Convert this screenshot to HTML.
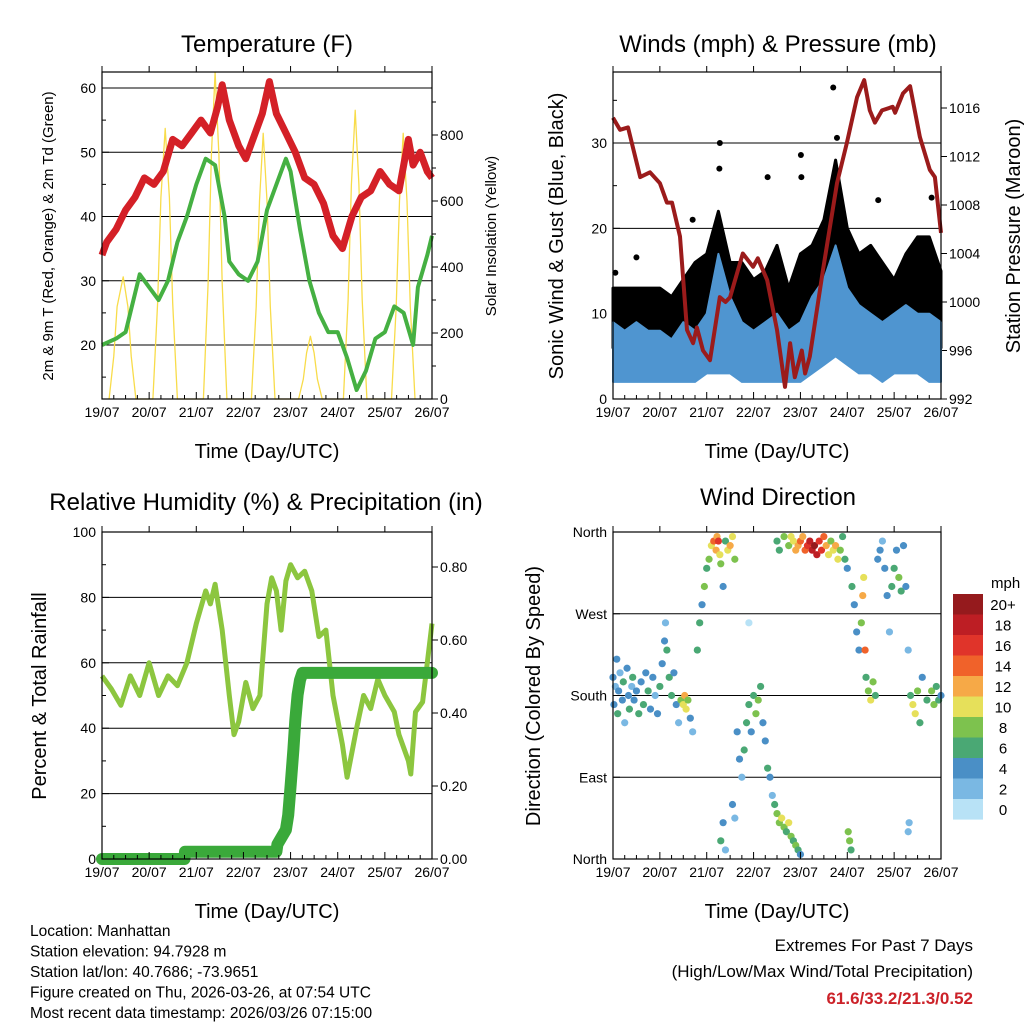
<!DOCTYPE html>
<html><head><meta charset="utf-8"><style>
html,body{margin:0;padding:0;background:#fff;}
svg{display:block;font-family:"Liberation Sans",sans-serif;}
</style></head><body>
<svg id="c" width="1024" height="1024" viewBox="0 0 1024 1024"></svg>
<script>
// ---------- data ----------
const dayLabels = ["19/07","20/07","21/07","22/07","23/07","24/07","25/07","26/07"];
const tempT = [19.0,19.1,19.3,19.5,19.7,19.9,20.1,20.3,20.5,20.7,20.9,21.1,21.3,21.45,21.55,21.7,21.9,22.05,22.2,22.4,22.55,22.7,22.9,23.1,23.3,23.5,23.7,23.9,24.1,24.3,24.5,24.7,24.9,25.1,25.3,25.5,25.6,25.75,25.9,26.0];
const tempV = [34,36,38,41,43,46,45,47,52,51,53,55,53,57,60.5,55,51,49,52,56,61,56,53,50,46,45,42,37,35,40,43,44,47,45,44,52,48,50,47,46];
const dewT = [19.0,19.3,19.5,19.7,19.8,20.0,20.2,20.4,20.6,20.8,21.0,21.2,21.4,21.6,21.7,21.9,22.1,22.3,22.5,22.7,22.9,23.0,23.2,23.4,23.6,23.8,24.0,24.2,24.4,24.6,24.8,25.0,25.2,25.4,25.6,25.7,25.9,26.0];
const dewV = [20,21,22,28,31,29,27,30,36,40,45,49,48,40,33,31,30,33,41,45,49,47,38,30,25,22,22,18,13,16,21,22,26,25,20,29,34,37];
const solarT = [19.15,19.25,19.32,19.45,19.55,19.62,19.72, 20.08,20.18,20.25,20.34,20.43,20.5,20.6, 21.15,21.25,21.32,21.4,21.48,21.55,21.65, 22.17,22.27,22.34,22.42,22.5,22.57,22.67, 23.17,23.27,23.34,23.42,23.5,23.57,23.67, 24.12,24.22,24.29,24.37,24.45,24.52,24.62, 25.14,25.24,25.31,25.39,25.47,25.54,25.64];
const solarV = [0,130,280,370,280,130,0, 0,290,610,820,610,290,0, 0,350,740,990,740,350,0, 0,280,600,805,600,280,0, 0,60,140,190,140,60,0, 0,300,650,875,650,300,0, 0,280,600,805,600,280,0];
const windT = [19.0,19.25,19.5,19.75,20.0,20.25,20.5,20.75,21.0,21.25,21.5,21.75,22.0,22.25,22.5,22.75,23.0,23.25,23.5,23.75,24.0,24.25,24.5,24.75,25.0,25.25,25.5,25.75,26.0];
const gustLow = [6,6,6,5,5,5,5,6,7,8,7,5,5,5,6,5,5,6,8,10,8,7,7,6,7,7,6,6,6];
const gustHigh = [13,13,13,13,13,12,14,16,17,22,16,16,14,15,18,13,17,18,21,28,20,17,18,16,14,17,19,19,15];
const windLow = [2,2,2,2,2,2,2,2,3,3,3,2,2,2,2,2,2,3,4,5,4,3,3,2,3,3,3,2,2];
const windHigh = [9,8,9,8,8,7,9,8,10,17,12,9,8,9,10,8,9,12,14,18,13,11,10,9,10,11,10,10,9];
const gustOutT = [19.05,19.5,20.7,21.27,21.28,22.3,23.01,23.02,23.7,23.78,24.66,25.8];
const gustOutV = [14.8,16.6,21,27,30,26,28.6,26,36.5,30.6,23.3,23.6];
const presT = [19.0,19.15,19.32,19.58,19.79,20.0,20.15,20.26,20.43,20.58,20.71,20.79,20.92,21.07,21.28,21.4,21.5,21.77,21.99,22.09,22.29,22.5,22.67,22.78,22.88,23.03,23.1,23.2,23.48,23.78,23.99,24.21,24.36,24.48,24.59,24.74,24.97,25.02,25.19,25.34,25.55,25.76,25.87,26.0];
const presV = [1015.2,1014.2,1014.4,1010.3,1010.7,1009.8,1008.2,1008.2,1005.4,997.7,996.6,997.9,996,995.2,1000.4,1000,1000.4,1004,1002.9,1003.6,1001.8,997.7,993,996.6,993.8,996,994.1,995.5,1002.6,1009.8,1013.1,1016.9,1018.3,1015.8,1014.8,1015.8,1016.1,1015.6,1017.2,1017.8,1013.6,1010.9,1010.3,1005.7];
const rhT = [19.0,19.2,19.4,19.6,19.8,20.0,20.2,20.4,20.6,20.8,21.0,21.2,21.3,21.4,21.55,21.7,21.8,21.9,22.05,22.2,22.35,22.5,22.6,22.7,22.8,22.9,23.0,23.15,23.3,23.45,23.6,23.75,23.9,24.1,24.2,24.4,24.55,24.7,24.85,25.0,25.2,25.3,25.5,25.55,25.65,25.8,25.9,26.0];
const rhV = [56,52,47,56,50,60,50,56,53,60,72,82,78,84,70,50,38,42,54,46,50,78,86,82,70,85,90,86,88,82,68,70,50,35,25,40,50,46,55,50,45,38,30,26,45,48,60,72];
const precT = [19.0,20.75,20.76,22.7,22.72,22.9,22.95,23.0,23.03,23.06,23.1,23.15,23.2,23.25,26.0];
const precV = [0,0,0.02,0.02,0.04,0.08,0.12,0.2,0.25,0.3,0.38,0.45,0.49,0.51,0.51];
const dirT = [19.0,19.02,19.05,19.08,19.1,19.12,19.15,19.2,19.22,19.25,19.3,19.33,19.35,19.4,19.42,19.45,19.5,19.55,19.6,19.65,19.7,19.75,19.8,19.85,19.9,19.95,20.0,20.05,20.1,20.12,20.15,20.2,20.25,20.3,20.35,20.4,20.45,20.5,20.53,20.56,20.6,20.65,20.7,20.8,20.85,20.9,20.95,21.0,21.05,21.1,21.15,21.2,21.22,21.25,21.28,21.3,21.35,21.4,21.45,21.5,21.55,21.6,21.55,21.6,21.35,21.3,21.4,21.65,21.7,21.75,21.8,21.85,21.9,21.95,22.0,22.05,22.1,22.15,22.2,22.25,22.3,22.35,22.4,22.45,22.5,22.55,22.6,22.65,22.7,22.75,22.8,22.85,22.9,22.95,23.0,22.5,22.55,22.65,22.75,22.8,22.85,22.9,22.95,23.0,23.05,23.1,23.15,23.2,23.25,23.3,23.35,23.4,23.45,23.5,23.55,23.6,23.65,23.7,23.75,23.8,23.85,23.9,23.95,24.0,24.02,24.05,24.08,24.1,24.15,24.2,24.25,24.3,24.33,24.35,24.38,24.4,24.45,24.5,24.55,24.6,24.65,24.7,24.75,24.8,24.85,24.9,24.95,25.0,25.05,25.1,25.15,25.2,25.25,25.3,25.3,25.32,25.35,25.4,25.45,25.5,25.55,25.6,25.7,25.8,25.85,25.9,25.95,26.0,21.9];
const dirV = [200,170,190,220,160,185,205,175,195,150,210,180,165,190,200,175,185,160,195,170,205,185,165,200,180,160,190,215,240,260,230,200,180,205,170,150,175,170,180,165,175,155,140,230,260,280,300,320,330,345,350,340,355,350,335,325,300,350,340,345,355,330,60,45,40,20,10,140,110,90,120,150,170,140,180,160,175,190,150,130,100,90,70,60,50,40,45,35,30,40,25,20,15,10,5,350,340,355,345,355,350,340,345,350,355,340,345,350,340,345,335,350,340,355,345,335,350,340,345,330,340,355,330,320,30,20,10,300,280,250,230,260,290,310,230,200,185,175,195,180,330,340,350,320,290,250,300,320,340,310,295,345,300,230,30,40,180,170,160,185,150,200,175,185,170,190,175,180,260];
const dirS = [4,5,3,4,6,5,3,4,6,3,5,4,6,3,7,5,4,6,5,7,4,6,5,4,3,5,6,5,4,3,6,7,6,5,4,3,9,11,12,10,8,5,3,6,7,5,8,7,9,10,14,13,12,17,10,8,5,6,11,13,10,8,4,3,5,6,2,5,4,3,6,7,6,5,6,8,9,7,5,4,6,5,3,7,8,9,11,8,6,10,9,7,8,6,4,7,6,8,9,11,10,12,13,14,12,15,17,18,19,20,18,16,17,14,12,10,9,11,12,10,8,7,6,5,8,9,7,6,5,4,5,9,12,11,14,6,9,10,8,7,4,5,3,4,5,3,6,7,5,8,6,4,5,3,3,2,6,10,11,9,7,5,6,8,9,7,6,5,0];
const cbLabels = ["20+","18","16","14","12","10","8","6","4","2","0"];
const cbColors = ["#951a1d","#bd1e24","#e0342a","#f0622a","#f6a947","#e6e05a","#7dc24e","#4aa874","#4a8fc6","#7ab8e3","#b8e2f6"];

// ---------- helpers ----------
const NS="http://www.w3.org/2000/svg";
const svg=document.getElementById('c');
function mk(tag,attrs,parent){const e=document.createElementNS(NS,tag);for(const k in attrs)e.setAttribute(k,attrs[k]);(parent||svg).appendChild(e);return e;}
function txt(x,y,s,size,anchor,extra){const e=mk('text',Object.assign({x:x,y:y,'font-size':size,'text-anchor':anchor||'middle',fill:'#000'},extra||{}));e.textContent=s;return e;}
function mkScale(d0,d1,r0,r1){return v=>r0+(v-d0)/(d1-d0)*(r1-r0);}
function pathD(xs,ys){return xs.map((x,i)=>(i?'L':'M')+x.toFixed(1)+','+ys[i].toFixed(1)).join('');}

function frame(name){
  const g=mk('g',{});
  
  
  return g;
}
function xAxis(g,x0,x1,y0,y1){
  const xs=mkScale(19,26,x0,x1);
  for(let i=0;i<dayLabels.length;i++){
    const x=xs(19+i);
    mk('line',{x1:x,y1:y1,x2:x,y2:y1-7,stroke:'#000'},g);
    mk('line',{x1:x,y1:y0,x2:x,y2:y0-6,stroke:'#000'},g);
    const t=txt(x,y1+18,dayLabels[i],14);
    
    
    g.appendChild(t);
    if(i<7){for(let k=1;k<4;k++){const xm=xs(19+i+k/4);mk('line',{x1:xm,y1:y1,x2:xm,y2:y1-4,stroke:'#000'},g);}}
  }
  const lt=txt((x0+x1)/2,y1+59,'Time (Day/UTC)',20);
  
  
  g.appendChild(lt);
  return xs;
}
function yTicks(g,ys,vals,labels,x,side,grid,x0,x1){
  vals.forEach((v,i)=>{
    const y=ys(v);
    if(grid) mk('line',{x1:x0,y1:y,x2:x1,y2:y,stroke:'#000','stroke-width':1},g);
    mk('line',{x1:x,y1:y,x2:x+(side<0?7:6),y2:y,stroke:'#000'},g);
    const t=txt(side<0?x-6:x+8,y+5,labels[i],14,side<0?'end':'start');
    
    
    g.appendChild(t);
  });
}
function box(g,x0,y0,x1,y1){mk('rect',{x:x0,y:y0,width:x1-x0,height:y1-y0,fill:'none',stroke:'#000','stroke-width':1.2},g);}

// ---------- Panel 1: Temperature ----------
(function(){
  const x0=102,y0=72,x1=432,y1=399;
  const g=frame('temperature-panel');
  const xs=mkScale(19,26,x0,x1);
  const ys=mkScale(20,60,345,88);
  const ys2=mkScale(0,800,399,135);
  yTicks(g,ys,[20,30,40,50,60],['20','30','40','50','60'],x0,-1,true,x0,x1);
  yTicks(g,ys2,[0,200,400,600,800],['0','200','400','600','800'],x1,1,false);
  [15,25,35,45,55].forEach(v=>mk('line',{x1:x0,y1:ys(v),x2:x0+4,y2:ys(v),stroke:'#000'},g));
  [100,300,500,700,900].forEach(v=>mk('line',{x1:x1,y1:ys2(v),x2:x1+4,y2:ys2(v),stroke:'#000'},g));
  const sol=mk('path',{d:pathD(solarT.map(xs),solarV.map(ys2)),fill:'none',stroke:'#f8dc4a','stroke-width':1.3,'stroke-linejoin':'round'},g);
  
  
  const tl=mk('path',{d:pathD(tempT.map(xs),tempV.map(ys)),fill:'none',stroke:'#d42027','stroke-width':7,'stroke-linejoin':'round'},g);
  
  
  const dl=mk('path',{d:pathD(dewT.map(xs),dewV.map(ys)),fill:'none',stroke:'#45b042','stroke-width':4,'stroke-linejoin':'round'},g);
  
  
  box(g,x0,y0,x1,y1);
  xAxis(g,x0,x1,y0,y1);
  const t=txt(267,52,'Temperature (F)',24);
  
  
  const yl=txt(0,0,'2m & 9m T (Red, Orange) & 2m Td (Green)',15,'middle',{transform:'translate(53,236) rotate(-90)'});
  
  
  const yr=txt(0,0,'Solar Insolation (Yellow)',15,'middle',{transform:'translate(496,236) rotate(-90)'});
  
  
})();

// ---------- Panel 2: Winds & Pressure ----------
(function(){
  const x0=613,y0=72,x1=941,y1=399;
  const g=frame('winds-panel');
  const xs=mkScale(19,26,x0,x1);
  const ys=mkScale(0,30,399,143);
  const ys2=mkScale(992,1016,399,108);
  yTicks(g,ys,[0,10,20,30],['0','10','20','30'],x0,-1,true,x0,x1);
  yTicks(g,ys2,[992,996,1000,1004,1008,1012,1016],['992','996','1000','1004','1008','1012','1016'],x1,1,false);
  [5,15,25,35].forEach(v=>mk('line',{x1:x0,y1:ys(v),x2:x0+4,y2:ys(v),stroke:'#000'},g));
  const gx=windT.map(xs);
  const gb=mk('path',{d:pathD(gx.concat(gx.slice().reverse()),gustHigh.map(ys).concat(gustLow.map(ys).reverse()))+'Z',fill:'#000',stroke:'#000','stroke-width':3,'stroke-linejoin':'round'},g);
  
  
  gustOutT.forEach((t,i)=>{
    const c=mk('circle',{cx:xs(t),cy:ys(gustOutV[i]),r:3,fill:'#000'},g);
    
    
  });
  const wb=mk('path',{d:pathD(gx.concat(gx.slice().reverse()),windHigh.map(ys).concat(windLow.map(ys).reverse()))+'Z',fill:'#4f95d0',stroke:'#4f95d0','stroke-width':2,'stroke-linejoin':'round'},g);
  
  
  const pl=mk('path',{d:pathD(presT.map(xs),presV.map(ys2)),fill:'none',stroke:'#9b1b1b','stroke-width':4,'stroke-linejoin':'round'},g);
  
  
  box(g,x0,y0,x1,y1);
  xAxis(g,x0,x1,y0,y1);
  const t=txt(778,52,'Winds (mph) & Pressure (mb)',24);
  
  
  const yl=txt(0,0,'Sonic Wind & Gust (Blue, Black)',20,'middle',{transform:'translate(563,236) rotate(-90)'});
  
  
  const yr=txt(0,0,'Station Pressure (Maroon)',20,'middle',{transform:'translate(1020,236) rotate(-90)'});
  
  
})();

// ---------- Panel 3: RH & Precip ----------
(function(){
  const x0=102,y0=532,x1=432,y1=859;
  const g=frame('humidity-panel');
  const xs=mkScale(19,26,x0,x1);
  const ys=mkScale(0,100,859,532);
  const ys2=mkScale(0,0.8,859,567);
  yTicks(g,ys,[0,20,40,60,80,100],['0','20','40','60','80','100'],x0,-1,true,x0,x1);
  yTicks(g,ys2,[0,0.2,0.4,0.6,0.8],['0.00','0.20','0.40','0.60','0.80'],x1,1,false);
  [10,30,50,70,90].forEach(v=>mk('line',{x1:x0,y1:ys(v),x2:x0+4,y2:ys(v),stroke:'#000'},g));
  const rl=mk('path',{d:pathD(rhT.map(xs),rhV.map(ys)),fill:'none',stroke:'#8cc63f','stroke-width':5,'stroke-linejoin':'round'},g);
  
  
  const pl=mk('path',{d:pathD(precT.map(xs),precV.map(ys2)),fill:'none',stroke:'#3aa93a','stroke-width':12,'stroke-linecap':'round','stroke-linejoin':'round'},g);
  
  
  box(g,x0,y0,x1,y1);
  xAxis(g,x0,x1,y0,y1);
  const t=txt(266,510,'Relative Humidity (%) & Precipitation (in)',24);
  
  
  const yl=txt(0,0,'Percent & Total Rainfall',20,'middle',{transform:'translate(46,696) rotate(-90)'});
  
  
})();

// ---------- Panel 4: Wind Direction ----------
(function(){
  const x0=613,y0=532,x1=941,y1=859;
  const g=frame('wind-direction-panel');
  const xs=mkScale(19,26,x0,x1);
  const ys=mkScale(0,360,859,532);
  yTicks(g,ys,[0,90,180,270,360],['North','East','South','West','North'],x0,-1,false);
  [90,180,270].forEach(v=>mk('line',{x1:x0,y1:ys(v),x2:x1,y2:ys(v),stroke:'#000'},g));
  dirT.forEach((t,i)=>{
    const s=dirS[i];
    const idx=Math.max(0,Math.min(10,10-Math.floor(s/2)));
    const c=mk('circle',{cx:xs(t),cy:ys(dirV[i]),r:3.6,fill:cbColors[idx]},g);
    
    
  });
  box(g,x0,y0,x1,y1);
  xAxis(g,x0,x1,y0,y1);
  const t=txt(778,505,'Wind Direction',24);
  
  
  const yl=txt(0,0,'Direction (Colored By Speed)',20,'middle',{transform:'translate(540,696) rotate(-90)'});
  
  
  const cg=mk('g',{});
  
  
  const u=txt(991,588,'mph',15,'start');
  cg.appendChild(u);
  cbLabels.forEach((l,i)=>{
    const r=mk('rect',{x:953,y:594+i*20.5,width:30,height:20.6,fill:cbColors[i]},cg);
    
    
    const tt=txt(1003,610+i*20.5,l,15,'middle');
    
    
    cg.appendChild(tt);
  });
})();

// ---------- footer text ----------
const info=["Location: Manhattan","Station elevation: 94.7928 m","Station lat/lon: 40.7686; -73.9651","Figure created on Thu, 2026-03-26, at 07:54 UTC","Most recent data timestamp: 2026/03/26 07:15:00"];
info.forEach((s,i)=>{
  const t=txt(30,936+i*20.5,s,15.5,'start');
  
  
});
const e1=txt(973,951,'Extremes For Past 7 Days',17,'end');


const e2=txt(973,977,'(High/Low/Max Wind/Total Precipitation)',17,'end');


const e3=txt(973,1004,'61.6/33.2/21.3/0.52',17,'end',{fill:'#cc2229','font-weight':'bold'});


</script>
</body></html>
